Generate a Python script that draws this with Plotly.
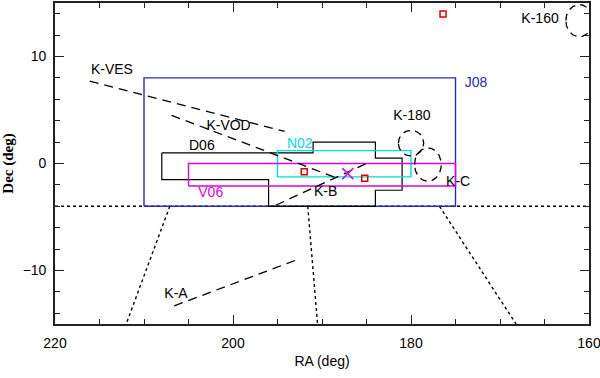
import numpy as np
import plotly.graph_objects as go

# ---- survey boxes (RA, Dec in deg)
j08_ra = [210, 175, 175, 210, 210]
j08_dec = [-4, -4, 8, 8, -4]
v06_ra = [205, 175, 175, 205, 205]
v06_dec = [-2.1, -2.1, 0, 0, -2.1]
n02_ra = [195, 180, 180, 195, 195]
n02_dec = [-1.25, -1.25, 1.2, 1.2, -1.25]
d06_ra = [208, 191, 191, 184, 184, 181, 181, 184, 184, 196, 196, 208, 208]
d06_dec = [1, 1, 2, 2, 0.5, 0.5, -2.5, -2.5, -4, -4, -1.5, -1.5, 1]

# ---- dashed tracks
ves_ra, ves_dec = [216.1, 194.2], [7.7, 3.0]
vod_ra, vod_dec = [206.9, 188.2], [4.5, -1.4]
kb_ra, kb_dec = [195.2, 185.0], [-3.9, 0.0]
ka_ra, ka_dec = [206.6, 192.5], [-13.3, -8.9]

# ---- dotted limits
lim_ra = [[220, 160], [207.1, 212.0], [191.6, 190.5], [176.8, 168.2]]
lim_dec = [[-4, -4], [-4, -15], [-4, -15], [-4, -15]]

# ---- dashed circles
circ_ra = [180.0, 178.1, 161.1]
circ_dec = [1.9, -0.1, 13.35]
circ_rx = [1.42, 1.5, 1.5]
circ_ry = [1.2, 1.56, 1.5]

# ---- point sources
sq_ra = [192.0, 185.2, 176.4]
sq_dec = [-0.77, -1.39, 13.97]
x_ra, x_dec = [187.1], [-0.95]

# ---- labels
lbl_text = ['K-VES', 'K-VOD', 'D06', 'V06', 'N02', 'K-B', 'K-180', 'K-C', 'K-160', 'J08', 'K-A']
lbl_ra = [213.6, 200.5, 203.5, 202.5, 192.5, 189.6, 179.9, 174.7, 165.5, 172.7, 206.4]
lbl_dec = [8.65, 3.5, 1.6, -2.8, 1.75, -2.7, 4.4, -1.8, 13.45, 7.5, -12.25]
lbl_col = ['black', 'black', 'black', '#e000e0', '#00dddd', 'black', 'black', 'black', 'black', '#2a2ab8', 'black']

fig = go.Figure()

def add_line(x, y, color, width=1.3, dash=None):
    fig.add_trace(go.Scatter(x=x, y=y, mode='lines',
                             line=dict(color=color, width=width, dash=dash),
                             hoverinfo='skip', showlegend=False))

# dotted limits
for xr, yr in zip(lim_ra, lim_dec):
    add_line(xr, yr, 'black', 1.4, 'dot')

# boxes
add_line(j08_ra, j08_dec, '#2a2ab8', 1.4)
add_line(d06_ra, d06_dec, 'black', 1.2)
add_line(n02_ra, n02_dec, '#00dddd', 1.4)
add_line(v06_ra, v06_dec, '#e000e0', 1.4)

# dashed tracks
for xr, yr in [(ves_ra, ves_dec), (vod_ra, vod_dec), (kb_ra, kb_dec), (ka_ra, ka_dec)]:
    add_line(xr, yr, 'black', 1.3, '9px,6px')

# circles
t = np.linspace(0, 2 * np.pi, 120)
for cx, cy, rx, ry in zip(circ_ra, circ_dec, circ_rx, circ_ry):
    add_line(cx + rx * np.cos(t), cy + ry * np.sin(t), 'black', 1.3, '7px,5px')

fig.add_trace(go.Scatter(x=sq_ra, y=sq_dec, mode='markers',
                         marker=dict(symbol='square-open', size=6, color='#e00000',
                                     line=dict(width=1.5, color='#e00000')),
                         hoverinfo='skip', showlegend=False))
fig.add_trace(go.Scatter(x=x_ra, y=x_dec, mode='markers',
                         marker=dict(symbol='x-thin-open', size=11, color='#c020d0',
                                     line=dict(width=1.6, color='#c020d0')),
                         hoverinfo='skip', showlegend=False))

fig.add_trace(go.Scatter(x=lbl_ra, y=lbl_dec, mode='text', text=lbl_text,
                         textfont=dict(family='Liberation Sans', size=14, color=lbl_col),
                         hoverinfo='skip', showlegend=False))

axis_common = dict(showgrid=False, zeroline=False, showline=True, linecolor='#222',
                   linewidth=1.6, mirror='allticks', ticks='inside', tickcolor='#222',
                   tickwidth=1.4, ticklen=9, automargin=False, ticklabeloverflow='allow',
                   tickfont=dict(family='Liberation Sans', size=14, color='black'))

fig.update_xaxes(range=[220, 160], tickvals=[220, 200, 180, 160], ticklabelstandoff=5,
                 minor=dict(dtick=5, ticks='inside', ticklen=5, tickcolor='#222', tickwidth=1.2),
                 title=dict(text='RA (deg)', font=dict(family='Liberation Sans', size=14, color='black'),
                            standoff=7),
                 **axis_common)
fig.update_yaxes(range=[-15, 15], tickvals=[-10, 0, 10], ticklabelstandoff=4,
                 minor=dict(dtick=2, tick0=0, ticks='inside', ticklen=5, tickcolor='#222', tickwidth=1.2),
                 title=dict(text='<b>Dec (deg)</b>', font=dict(family='Liberation Serif', size=15, color='black')),
                 **axis_common)

fig.update_layout(width=600, height=378, margin=dict(l=55, r=11, t=3, b=54),
                  plot_bgcolor='white', paper_bgcolor='white')

fig.write_html("out.html", config={'displayModeBar': False},
               post_script="document.body.style.margin='0';")
